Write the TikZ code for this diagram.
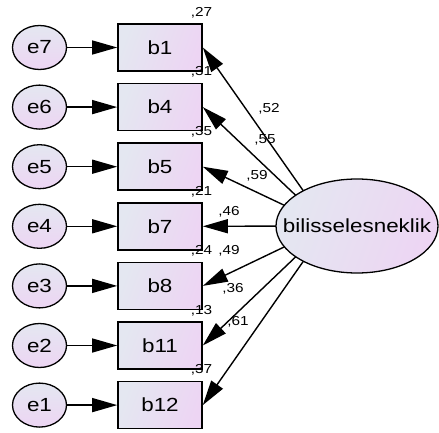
\documentclass[tikz,border=0pt]{standalone}
\usepackage{fontspec}
\setmainfont{Liberation Sans}[FakeStretch=1.18]
\usepackage{tikz}
\usetikzlibrary{arrows.meta, positioning, shapes.geometric}

\definecolor{fillA}{RGB}{228,231,241}
\definecolor{fillB}{RGB}{237,213,243}

\tikzset{
  obs/.style={draw, line width=1.6pt, minimum width=84pt, minimum height=47pt,
    left color=fillA, right color=fillB, shading angle=70,
    font=\fontsize{19}{21}\selectfont},
  err/.style={ellipse, draw, line width=1.3pt, minimum width=54pt, minimum height=44pt,
    inner sep=0pt, top color=fillA, bottom color=fillB,
    font=\fontsize{19}{21}\selectfont},
  latent/.style={ellipse, draw, line width=1.3pt, minimum width=162pt, minimum height=94pt,
    inner xsep=-22pt, inner ysep=0pt, left color=fillA, right color=fillB, shading angle=70,
    font=\fontsize{19}{21}\selectfont},
  est/.style={inner sep=0pt, font=\fontsize{13}{14}\selectfont},
}

\begin{document}
\begin{tikzpicture}[x=1pt, y=-1pt, node distance=59.6pt, line width=1.4pt,
    >={Triangle[length=25pt, width=14pt]}]
    \useasboundingbox (0,0) rectangle (439,433);

    % observed items
    \node[obs] (b1) at (160,47.5) {b1};
    \node[obs, below of=b1] (b4) {b4};
    \node[obs, below of=b4] (b5) {b5};
    \node[obs, below of=b5] (b7) {b7};
    \node[obs, below of=b7] (b8) {b8};
    \node[obs, below of=b8] (b11) {b11};
    \node[obs, below of=b11] (b12) {b12};

    % errors
    \node[err, left of=b1, node distance=120.5pt] (e7) {e7};
    \node[err, left of=b4, node distance=120.5pt] (e6) {e6};
    \node[err, left of=b5, node distance=120.5pt] (e5) {e5};
    \node[err, left of=b7, node distance=120.5pt] (e4) {e4};
    \node[err, left of=b8, node distance=120.5pt] (e3) {e3};
    \node[err, left of=b11, node distance=120.5pt] (e2) {e2};
    \node[err, left of=b12, node distance=120.5pt] (e1) {e1};

    \draw[->] (e7) edge (b1);
    \draw[->] (e6) edge (b4);
    \draw[->] (e5) edge (b5);
    \draw[->] (e4) edge (b7);
    \draw[->] (e3) edge (b8);
    \draw[->] (e2) edge (b11);
    \draw[->] (e1) edge (b12);

    % loadings (start hidden under the factor)
    \coordinate (Fc) at (328,226);
    \draw[->] (Fc) edge (b1.east);
    \draw[->] (Fc) edge (b4.east);
    \draw[->] (Fc) edge (b5.east);
    \draw[->] (Fc) edge (b7.east);
    \draw[->] (Fc) edge (b8.east);
    \draw[->] (Fc) edge (b11.east);
    \draw[->] (Fc) edge (b12.east);

    % factor
    \node[latent] (F) at (357,226) {bilisselesneklik};

    \node[est] (l1) at (269,109) {,52};
    \node[est] (l4) at (265,140) {,55};
    \node[est] (l5) at (257,176) {,59};
    \node[est] (l7) at (229,212) {,46};
    \node[est] (l8) at (229,251) {,49};
    \node[est] (l11) at (233,289) {,36};
    \node[est] (l12) at (238,322) {,61};

    % squared multiple correlations
    \node[est, anchor=base east] (r1) at ([xshift=10pt, yshift=7pt]b1.north east) {,27};
    \node[est, anchor=base east] (r4) at ([xshift=10pt, yshift=7pt]b4.north east) {,31};
    \node[est, anchor=base east] (r5) at ([xshift=10pt, yshift=7pt]b5.north east) {,35};
    \node[est, anchor=base east] (r7) at ([xshift=10pt, yshift=7pt]b7.north east) {,21};
    \node[est, anchor=base east] (r8) at ([xshift=10pt, yshift=7pt]b8.north east) {,24};
    \node[est, anchor=base east] (r11) at ([xshift=10pt, yshift=7pt]b11.north east) {,13};
    \node[est, anchor=base east] (r12) at ([xshift=10pt, yshift=7pt]b12.north east) {,37};
\end{tikzpicture}
\end{document}
